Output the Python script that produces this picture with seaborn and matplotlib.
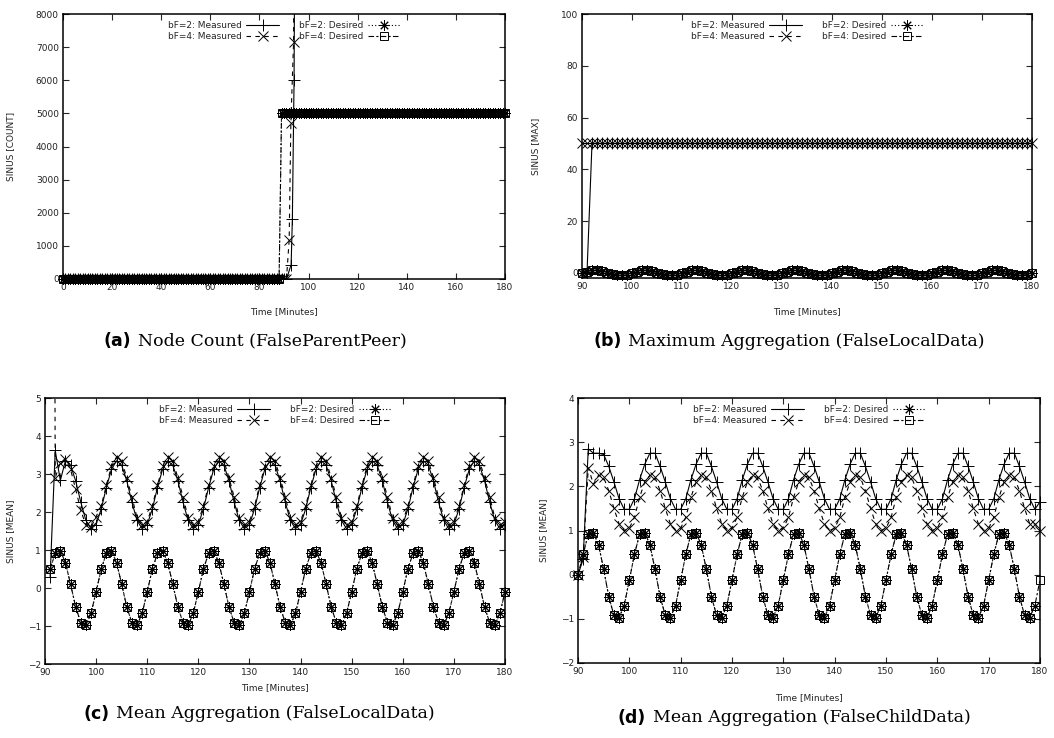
import matplotlib
matplotlib.use("Agg")
import matplotlib.pyplot as plt
import seaborn as sns

# ---------------- data ----------------
# (a) Node Count, FalseParentPeer: minutes 0..180
times_a = list(range(0, 181))
desired_a = [
    0, 0, 0, 0, 0, 0, 0, 0, 0, 0, 0, 0, 0, 0, 0, 0, 0, 0, 0, 0,
    0, 0, 0, 0, 0, 0, 0, 0, 0, 0, 0, 0, 0, 0, 0, 0, 0, 0, 0, 0,
    0, 0, 0, 0, 0, 0, 0, 0, 0, 0, 0, 0, 0, 0, 0, 0, 0, 0, 0, 0,
    0, 0, 0, 0, 0, 0, 0, 0, 0, 0, 0, 0, 0, 0, 0, 0, 0, 0, 0, 0,
    0, 0, 0, 0, 0, 0, 0, 0, 0,
    5000, 5000, 5000, 5000, 5000, 5000, 5000, 5000, 5000, 5000, 5000,
    5000, 5000, 5000, 5000, 5000, 5000, 5000, 5000, 5000, 5000, 5000,
    5000, 5000, 5000, 5000, 5000, 5000, 5000, 5000, 5000, 5000, 5000,
    5000, 5000, 5000, 5000, 5000, 5000, 5000, 5000, 5000, 5000, 5000,
    5000, 5000, 5000, 5000, 5000, 5000, 5000, 5000, 5000, 5000, 5000,
    5000, 5000, 5000, 5000, 5000, 5000, 5000, 5000, 5000, 5000, 5000,
    5000, 5000, 5000, 5000, 5000, 5000, 5000, 5000, 5000, 5000, 5000,
    5000, 5000, 5000, 5000, 5000, 5000, 5000, 5000, 5000, 5000, 5000,
    5000, 5000, 5000, 5000,
]
times_a_m2 = list(range(0, 92)) + [92.9, 93.4, 94.1, 95.0]
meas2_a = [
    0, 0, 0, 0, 0, 0, 0, 0, 0, 0, 0, 0, 0, 0, 0, 0, 0, 0, 0, 0,
    0, 0, 0, 0, 0, 0, 0, 0, 0, 0, 0, 0, 0, 0, 0, 0, 0, 0, 0, 0,
    0, 0, 0, 0, 0, 0, 0, 0, 0, 0, 0, 0, 0, 0, 0, 0, 0, 0, 0, 0,
    0, 0, 0, 0, 0, 0, 0, 0, 0, 0, 0, 0, 0, 0, 0, 0, 0, 0, 0, 0,
    0, 0, 0, 0, 0, 0, 0, 0, 0, 0, 0, 0,
    430, 1800, 6000, 20000,
]
times_a_m4 = list(range(0, 92)) + [92.1, 92.8, 93.9, 94.5]
meas4_a = [
    0, 0, 0, 0, 0, 0, 0, 0, 0, 0, 0, 0, 0, 0, 0, 0, 0, 0, 0, 0,
    0, 0, 0, 0, 0, 0, 0, 0, 0, 0, 0, 0, 0, 0, 0, 0, 0, 0, 0, 0,
    0, 0, 0, 0, 0, 0, 0, 0, 0, 0, 0, 0, 0, 0, 0, 0, 0, 0, 0, 0,
    0, 0, 0, 0, 0, 0, 0, 0, 0, 0, 0, 0, 0, 0, 0, 0, 0, 0, 0, 0,
    0, 0, 0, 0, 0, 0, 0, 0, 0, 0, 0, 0,
    1170, 4720, 7160, 20000,
]

# (b) Maximum Aggregation, FalseLocalData: minutes 90..180
times_b = list(range(90, 181))
desired_b = [
    0,
    0.5, 0.91, 0.98, 0.67, 0.1, -0.5, -0.91, -0.98, -0.67, -0.1,
    0.5, 0.91, 0.98, 0.67, 0.1, -0.5, -0.91, -0.98, -0.67, -0.1,
    0.5, 0.91, 0.98, 0.67, 0.1, -0.5, -0.91, -0.98, -0.67, -0.1,
    0.5, 0.91, 0.98, 0.67, 0.1, -0.5, -0.91, -0.98, -0.67, -0.1,
    0.5, 0.91, 0.98, 0.67, 0.1, -0.5, -0.91, -0.98, -0.67, -0.1,
    0.5, 0.91, 0.98, 0.67, 0.1, -0.5, -0.91, -0.98, -0.67, -0.1,
    0.5, 0.91, 0.98, 0.67, 0.1, -0.5, -0.91, -0.98, -0.67, -0.1,
    0.5, 0.91, 0.98, 0.67, 0.1, -0.5, -0.91, -0.98, -0.67, -0.1,
    0.5, 0.91, 0.98, 0.67, 0.1, -0.5, -0.91, -0.98, -0.67, -0.1,
]
times_b_m2 = list(range(91, 181))
meas2_b = [
    0,
    50, 50, 50, 50, 50, 50, 50, 50, 50, 50, 50, 50, 50, 50, 50, 50, 50, 50,
    50, 50, 50, 50, 50, 50, 50, 50, 50, 50, 50, 50, 50, 50, 50, 50, 50, 50,
    50, 50, 50, 50, 50, 50, 50, 50, 50, 50, 50, 50, 50, 50, 50, 50, 50, 50,
    50, 50, 50, 50, 50, 50, 50, 50, 50, 50, 50, 50, 50, 50, 50, 50, 50, 50,
    50, 50, 50, 50, 50, 50, 50, 50, 50, 50, 50, 50, 50, 50, 50, 50, 50,
]
meas4_b = [
    50, 50, 50, 50, 50, 50, 50, 50, 50, 50, 50, 50, 50, 50, 50, 50, 50, 50,
    50, 50, 50, 50, 50, 50, 50, 50, 50, 50, 50, 50, 50, 50, 50, 50, 50, 50,
    50, 50, 50, 50, 50, 50, 50, 50, 50, 50, 50, 50, 50, 50, 50, 50, 50, 50,
    50, 50, 50, 50, 50, 50, 50, 50, 50, 50, 50, 50, 50, 50, 50, 50, 50, 50,
    50, 50, 50, 50, 50, 50, 50, 50, 50, 50, 50, 50, 50, 50, 50, 50, 50, 50,
    50,
]

# (c) Mean Aggregation, FalseLocalData: minutes 91..180
times_c = list(range(91, 181))
desired_c = [
    0.5, 0.91, 0.98, 0.67, 0.1, -0.5, -0.91, -0.98, -0.67, -0.1,
    0.5, 0.91, 0.98, 0.67, 0.1, -0.5, -0.91, -0.98, -0.67, -0.1,
    0.5, 0.91, 0.98, 0.67, 0.1, -0.5, -0.91, -0.98, -0.67, -0.1,
    0.5, 0.91, 0.98, 0.67, 0.1, -0.5, -0.91, -0.98, -0.67, -0.1,
    0.5, 0.91, 0.98, 0.67, 0.1, -0.5, -0.91, -0.98, -0.67, -0.1,
    0.5, 0.91, 0.98, 0.67, 0.1, -0.5, -0.91, -0.98, -0.67, -0.1,
    0.5, 0.91, 0.98, 0.67, 0.1, -0.5, -0.91, -0.98, -0.67, -0.1,
    0.5, 0.91, 0.98, 0.67, 0.1, -0.5, -0.91, -0.98, -0.67, -0.1,
    0.5, 0.91, 0.98, 0.67, 0.1, -0.5, -0.91, -0.98, -0.67, -0.1,
]
meas2_c = [
    0.3, 3.62, 2.83, 3.35, 3.23, 2.82, 2.26, 1.78, 1.56, 1.67,
    2.08, 2.64, 3.12, 3.35, 3.23, 2.82, 2.26, 1.78, 1.56, 1.67,
    2.08, 2.64, 3.12, 3.35, 3.23, 2.82, 2.26, 1.78, 1.56, 1.67,
    2.08, 2.64, 3.12, 3.35, 3.23, 2.82, 2.26, 1.78, 1.56, 1.67,
    2.08, 2.64, 3.12, 3.35, 3.23, 2.82, 2.26, 1.78, 1.56, 1.67,
    2.08, 2.64, 3.12, 3.35, 3.23, 2.82, 2.26, 1.78, 1.56, 1.67,
    2.08, 2.64, 3.12, 3.35, 3.23, 2.82, 2.26, 1.78, 1.56, 1.67,
    2.08, 2.64, 3.12, 3.35, 3.23, 2.82, 2.26, 1.78, 1.56, 1.67,
    2.08, 2.64, 3.12, 3.35, 3.23, 2.82, 2.26, 1.78, 1.56, 1.67,
]
meas4_c = [
    50.0, 2.9, 3.3, 3.4, 3.12, 2.6, 2.04, 1.66, 1.6, 1.88,
    2.16, 2.7, 3.2, 3.45, 3.35, 2.9, 2.4, 1.85, 1.65, 1.75,
    2.16, 2.7, 3.2, 3.45, 3.35, 2.9, 2.4, 1.85, 1.65, 1.75,
    2.16, 2.7, 3.2, 3.45, 3.35, 2.9, 2.4, 1.85, 1.65, 1.75,
    2.16, 2.7, 3.2, 3.45, 3.35, 2.9, 2.4, 1.85, 1.65, 1.75,
    2.16, 2.7, 3.2, 3.45, 3.35, 2.9, 2.4, 1.85, 1.65, 1.75,
    2.16, 2.7, 3.2, 3.45, 3.35, 2.9, 2.4, 1.85, 1.65, 1.75,
    2.16, 2.7, 3.2, 3.45, 3.35, 2.9, 2.4, 1.85, 1.65, 1.75,
    2.16, 2.7, 3.2, 3.45, 3.35, 2.9, 2.4, 1.85, 1.65, 1.75,
]

# (d) Mean Aggregation, FalseChildData: minutes 90..180
times_d = list(range(90, 181))
desired4_d = [
    0,
    0.46, 0.92, 0.95, 0.68, 0.12, -0.5, -0.92, -0.97, -0.7, -0.12,
    0.46, 0.92, 0.95, 0.68, 0.12, -0.5, -0.92, -0.97, -0.7, -0.12,
    0.46, 0.92, 0.95, 0.68, 0.12, -0.5, -0.92, -0.97, -0.7, -0.12,
    0.46, 0.92, 0.95, 0.68, 0.12, -0.5, -0.92, -0.97, -0.7, -0.12,
    0.46, 0.92, 0.95, 0.68, 0.12, -0.5, -0.92, -0.97, -0.7, -0.12,
    0.46, 0.92, 0.95, 0.68, 0.12, -0.5, -0.92, -0.97, -0.7, -0.12,
    0.46, 0.92, 0.95, 0.68, 0.12, -0.5, -0.92, -0.97, -0.7, -0.12,
    0.46, 0.92, 0.95, 0.68, 0.12, -0.5, -0.92, -0.97, -0.7, -0.12,
    0.46, 0.92, 0.95, 0.68, 0.12, -0.5, -0.92, -0.97, -0.7, -0.12,
]
times_d2 = list(range(90, 180))
desired2_d = [
    0,
    0.46, 0.92, 0.95, 0.68, 0.12, -0.5, -0.92, -0.97, -0.7, -0.12,
    0.46, 0.92, 0.95, 0.68, 0.12, -0.5, -0.92, -0.97, -0.7, -0.12,
    0.46, 0.92, 0.95, 0.68, 0.12, -0.5, -0.92, -0.97, -0.7, -0.12,
    0.46, 0.92, 0.95, 0.68, 0.12, -0.5, -0.92, -0.97, -0.7, -0.12,
    0.46, 0.92, 0.95, 0.68, 0.12, -0.5, -0.92, -0.97, -0.7, -0.12,
    0.46, 0.92, 0.95, 0.68, 0.12, -0.5, -0.92, -0.97, -0.7, -0.12,
    0.46, 0.92, 0.95, 0.68, 0.12, -0.5, -0.92, -0.97, -0.7, -0.12,
    0.46, 0.92, 0.95, 0.68, 0.12, -0.5, -0.92, -0.97, -0.7, -0.12,
    0.46, 0.92, 0.95, 0.68, 0.12, -0.5, -0.92, -0.97, -0.7,
]
meas2_d = [
    0,
    0.35, 2.85, 2.75, 2.75, 2.72, 2.45, 2.1, 1.72, 1.48, 1.48,
    1.72, 2.15, 2.5, 2.75, 2.75, 2.45, 2.1, 1.72, 1.48, 1.48,
    1.72, 2.15, 2.5, 2.75, 2.75, 2.45, 2.1, 1.72, 1.48, 1.48,
    1.72, 2.15, 2.5, 2.75, 2.75, 2.45, 2.1, 1.72, 1.48, 1.48,
    1.72, 2.15, 2.5, 2.75, 2.75, 2.45, 2.1, 1.72, 1.48, 1.48,
    1.72, 2.15, 2.5, 2.75, 2.75, 2.45, 2.1, 1.72, 1.48, 1.48,
    1.72, 2.15, 2.5, 2.75, 2.75, 2.45, 2.1, 1.72, 1.48, 1.48,
    1.72, 2.15, 2.5, 2.75, 2.75, 2.45, 2.1, 1.72, 1.48, 1.48,
    1.72, 2.15, 2.5, 2.75, 2.75, 2.45, 2.1, 1.72, 1.48, 1.65,
]
meas4_d = [
    0,
    0.4, 2.42, 2.05, 2.25, 2.2, 1.9, 1.5, 1.15, 1.0, 1.05,
    1.3, 1.75, 2.1, 2.25, 2.2, 1.9, 1.5, 1.15, 1.0, 1.05,
    1.3, 1.75, 2.1, 2.25, 2.2, 1.9, 1.5, 1.15, 1.0, 1.05,
    1.3, 1.75, 2.1, 2.25, 2.2, 1.9, 1.5, 1.15, 1.0, 1.05,
    1.3, 1.75, 2.1, 2.25, 2.2, 1.9, 1.5, 1.15, 1.0, 1.05,
    1.3, 1.75, 2.1, 2.25, 2.2, 1.9, 1.5, 1.15, 1.0, 1.05,
    1.3, 1.75, 2.1, 2.25, 2.2, 1.9, 1.5, 1.15, 1.0, 1.05,
    1.3, 1.75, 2.1, 2.25, 2.2, 1.9, 1.5, 1.15, 1.0, 1.05,
    1.3, 1.75, 2.1, 2.25, 2.2, 1.9, 1.5, 1.15, 1.15, 1.0,
]

labels = ["bF=2: Measured", "bF=4: Measured", "bF=2: Desired", "bF=4: Desired"]

# ---------------- styling ----------------
sns.set_style("ticks")
plt.rcParams["font.family"] = ["DejaVu Sans"]
TICK_FS = 6.5
ASTERISK = (8, 2, 0)

styles = {
    "m2": dict(marker="+", markersize=8, linestyle="-"),
    "m4": dict(marker="x", markersize=7, linestyle=(0, (4, 4))),
    "d2": dict(marker=ASTERISK, markersize=7.5, linestyle=(0, (1, 2))),
    "d4": dict(marker="s", markersize=6.3, fillstyle="none", linestyle=(0, (5, 2, 2, 2))),
}


def draw(ax, x, y, key, label, clip=True):
    # seaborn defaults the marker edge to white, so force black edges
    sns.lineplot(x=x, y=y, ax=ax, color="black", lw=0.8, mew=0.7,
                 mec="black", mfc="none", label=label, clip_on=clip,
                 **styles[key])


def finish(ax, xlim, ylim, xticks, yticks, ylabel, xlab_y, ylab_x):
    ax.set_xlim(*xlim)
    ax.set_ylim(*ylim)
    ax.set_xticks(xticks)
    ax.set_yticks(yticks)
    ax.tick_params(direction="in", top=True, right=True, length=4, width=0.8,
                   labelsize=TICK_FS, labelcolor="#222222", pad=3)
    for s in ax.spines.values():
        s.set_linewidth(1.1)
        s.set_color("black")
    ax.set_xlabel("Time [Minutes]", fontsize=TICK_FS, color="#222222")
    ax.set_ylabel(ylabel, fontsize=TICK_FS, color="#222222")
    ax.xaxis.set_label_coords(0.5, xlab_y)
    ax.yaxis.set_label_coords(ylab_x, 0.5)
    handles, labs = ax.get_legend_handles_labels()
    order = [labs.index(l) for l in labels]
    ax.legend([handles[i] for i in order], [labs[i] for i in order],
              loc="upper center", bbox_to_anchor=(0.5, 1.0), ncol=2,
              frameon=False, fontsize=TICK_FS, markerfirst=False,
              handlelength=3.6, handletextpad=0.5, columnspacing=2.2,
              labelspacing=0.25, borderaxespad=0.35)


W, H = 1054, 738
fig = plt.figure(figsize=(W / 100, H / 100), dpi=100)


def box(l, r, t, b):
    return [l / W, 1 - b / H, (r - l) / W, (b - t) / H]


ax_a = fig.add_axes(box(63, 505, 14, 279))
ax_b = fig.add_axes(box(582, 1032, 14, 278))
ax_c = fig.add_axes(box(45, 505, 398, 664))
ax_d = fig.add_axes(box(578, 1040, 398, 663))

# (a)
draw(ax_a, times_a_m2, meas2_a, "m2", labels[0])
draw(ax_a, times_a_m4, meas4_a, "m4", labels[1])
draw(ax_a, times_a, desired_a, "d2", labels[2], clip=False)
draw(ax_a, times_a, desired_a, "d4", labels[3], clip=False)
finish(ax_a, (0, 180), (0, 8000), range(0, 181, 20), range(0, 8001, 1000),
       "SINUS [COUNT]", -0.105, -0.108)

# (b)
draw(ax_b, times_b_m2, meas2_b, "m2", labels[0])
draw(ax_b, times_b, meas4_b, "m4", labels[1], clip=False)
draw(ax_b, times_b, desired_b, "d2", labels[2], clip=False)
draw(ax_b, times_b, desired_b, "d4", labels[3], clip=False)
finish(ax_b, (90, 180), (-2, 100), range(90, 181, 10), range(0, 101, 20),
       "SINUS [MAX]", -0.11, -0.093)

# (c)
draw(ax_c, times_c, meas2_c, "m2", labels[0])
draw(ax_c, times_c, meas4_c, "m4", labels[1])
draw(ax_c, times_c, desired_c, "d2", labels[2], clip=False)
draw(ax_c, times_c, desired_c, "d4", labels[3], clip=False)
finish(ax_c, (90, 180), (-2, 5), range(90, 181, 10), range(-2, 6),
       "SINUS [MEAN]", -0.072, -0.065)

# (d)
draw(ax_d, times_d, meas2_d, "m2", labels[0], clip=False)
draw(ax_d, times_d, meas4_d, "m4", labels[1], clip=False)
draw(ax_d, times_d2, desired2_d, "d2", labels[2], clip=False)
draw(ax_d, times_d, desired4_d, "d4", labels[3], clip=False)
finish(ax_d, (90, 180), (-2, 4), range(90, 181, 10), range(-2, 5),
       "SINUS [MEAN]", -0.113, -0.065)

# sub-captions: bold sans tag + serif title
captions = [
    (255, 341, "(a)", "Node Count (FalseParentPeer)"),
    (789, 341, "(b)", "Maximum Aggregation (FalseLocalData)"),
    (259, 714, "(c)", "Mean Aggregation (FalseLocalData)"),
    (794, 718, "(d)", "Mean Aggregation (FalseChildData)"),
]
renderer = fig.canvas.get_renderer()
for xc, yc, tag, text in captions:
    t1 = fig.text(0, 1 - yc / H, tag, fontsize=12.5, fontweight="bold",
                  family="DejaVu Sans", va="center", ha="left", color="black")
    t2 = fig.text(0, 1 - yc / H, text, fontsize=12.5, family="DejaVu Serif",
                  va="center", ha="left", color="black")
    w1 = t1.get_window_extent(renderer).width
    w2 = t2.get_window_extent(renderer).width
    gap = 7
    x0 = xc - (w1 + gap + w2) / 2
    t1.set_x(x0 / W)
    t2.set_x((x0 + w1 + gap) / W)

fig.savefig("out.png", dpi=100)
